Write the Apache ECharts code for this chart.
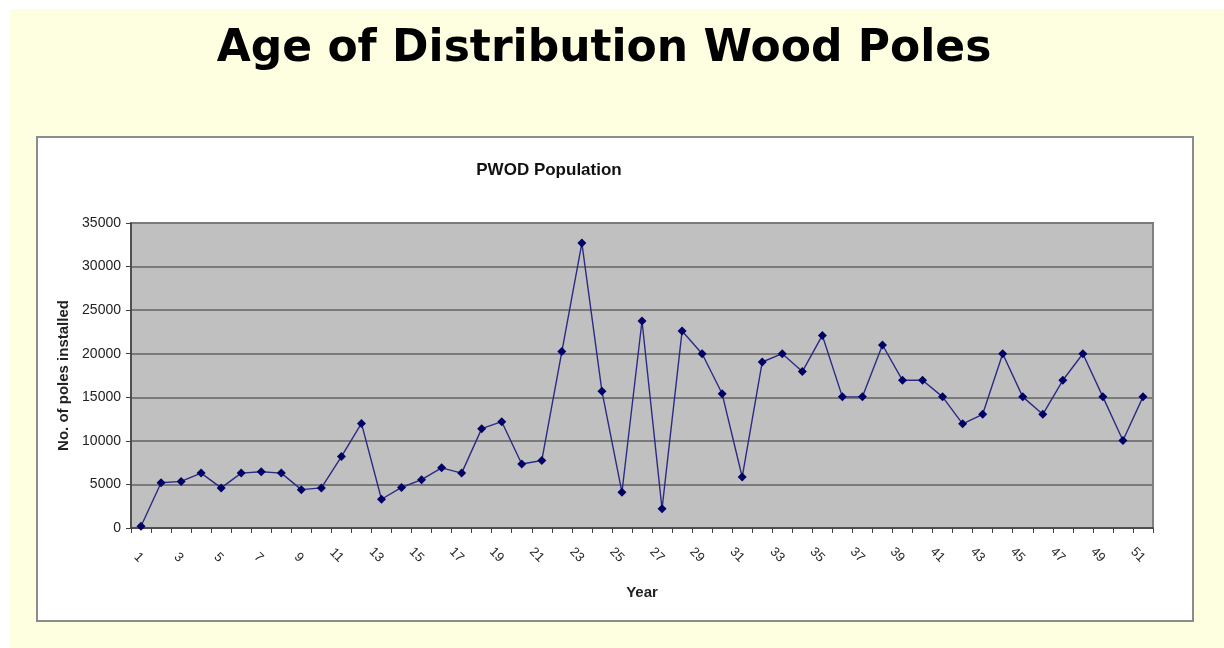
<!DOCTYPE html>
<html>
<head>
<meta charset="utf-8">
<script src="https://cdn.jsdelivr.net/npm/echarts@6/dist/echarts.min.js"></script>
<style>
  html, body { margin: 0; padding: 0; background: #ffffff; }
  #chart { width: 1224px; height: 648px; }
</style>
</head>
<body>
<div id="chart"></div>
<script>
// Year index (1..51) and number of wood poles installed in each year
const years = Array.from({ length: 51 }, (_, i) => String(i + 1));
const polesInstalled = [
  200, 5200, 5350, 6300, 4600, 6300, 6450, 6300, 4400, 4600,
  8200, 12000, 3300, 4650, 5550, 6900, 6300, 11400, 12200, 7350,
  7750, 20250, 32700, 15700, 4100, 23750, 2200, 22600, 20000, 15400,
  5850, 19050, 20000, 17950, 22100, 15050, 15050, 21000, 16950, 16950,
  15050, 11950, 13050, 20000, 15050, 13050, 16950, 20000, 15050, 10050,
  15050
];
const yTicks = [0, 5000, 10000, 15000, 20000, 25000, 30000, 35000];

const labelFont = "'Liberation Sans', Arial, sans-serif";

const chart = echarts.init(document.getElementById('chart'), null, { renderer: 'canvas' });

chart.setOption({
  animation: false,
  backgroundColor: '#ffffff',
  graphic: [
    // pale yellow slide background
    { type: 'rect', z: -10, shape: { x: 10, y: 9, width: 1214, height: 639 },
      style: { fill: '#fefee0' } },
    // white chart frame
    { type: 'rect', z: -9, shape: { x: 37, y: 137, width: 1156, height: 484 },
      style: { fill: '#ffffff', stroke: '#8c8c8c', lineWidth: 2 } },
    // plot area fill
    { type: 'rect', z: -8, shape: { x: 131, y: 223, width: 1022, height: 305 },
      style: { fill: '#c0c0c0', stroke: '#808080', lineWidth: 2 } }
  ],
  title: [
    { text: 'Age of Distribution Wood Poles', left: 599, top: 23, textAlign: 'center',
      textStyle: { fontFamily: "'DejaVu Sans', sans-serif", fontWeight: 'bold',
                   fontSize: 44, color: '#000000' } },
    { text: 'PWOD Population', left: 544, top: 157, textAlign: 'center',
      textStyle: { fontFamily: labelFont, fontWeight: 'bold', fontSize: 17, color: '#111111' } }
  ],
  grid: { left: 131, right: 71, top: 223, bottom: 120, containLabel: false },
  xAxis: {
    type: 'category',
    data: years,
    boundaryGap: true,
    name: 'Year',
    nameLocation: 'middle',
    nameGap: 57,
    nameTextStyle: { fontFamily: labelFont, fontWeight: 'bold', fontSize: 15, color: '#222222' },
    axisLine: { lineStyle: { color: '#404040', width: 1.5 } },
    axisTick: { show: true, alignWithLabel: false, interval: 0, length: 5,
                lineStyle: { color: '#404040' } },
    axisLabel: { interval: 1, rotate: -45, margin: 32, align: 'right', verticalAlign: 'middle',
                 fontFamily: labelFont, fontSize: 13, color: '#2a2a2a' },
    splitLine: { show: false }
  },
  yAxis: {
    type: 'value',
    min: 0,
    max: 35000,
    interval: 5000,
    name: 'No. of poles installed',
    nameLocation: 'middle',
    nameGap: 60,
    nameTextStyle: { fontFamily: labelFont, fontWeight: 'bold', fontSize: 15, color: '#222222' },
    axisLine: { show: true, lineStyle: { color: '#404040', width: 1.5 } },
    axisTick: { show: true, length: 5, lineStyle: { color: '#404040' } },
    axisLabel: { margin: 10, fontFamily: labelFont, fontSize: 14, color: '#222222',
                 formatter: v => yTicks.includes(v) ? String(v) : '' },
    splitLine: { show: true, lineStyle: { color: '#7a7a7a', width: 2 } }
  },
  series: [{
    type: 'line',
    data: polesInstalled,
    symbol: 'diamond',
    symbolSize: 9,
    showAllSymbol: true,
    lineStyle: { color: '#2b2b85', width: 1.4 },
    itemStyle: { color: '#000066', borderWidth: 0 }
  }]
});
</script>
</body>
</html>
